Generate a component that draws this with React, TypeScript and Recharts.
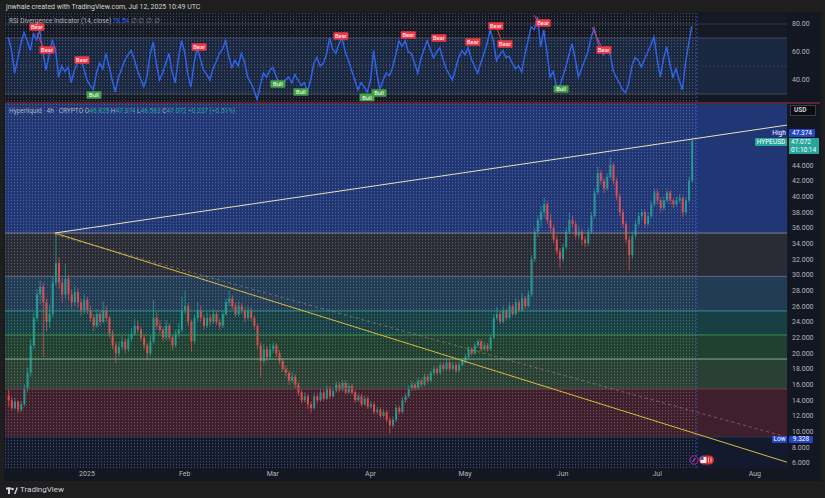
import React from 'react';
import {
  ComposedChart,
  Bar,
  Line,
  XAxis,
  YAxis,
  CartesianGrid,
  ReferenceArea,
  ReferenceLine,
  ReferenceDot,
} from 'recharts';

// days counted from Jan 1 2025, first candle is Dec 7 2024
const FIRST_DAY = -25;

// daily candles [open, high, low, close]
const ohlc: [number, number, number, number][] = [
  // Dec
  [14.6, 15.3, 13.2, 14.0], [14.0, 14.4, 12.7, 13.0], [13.0, 14.3, 12.8, 13.8], [13.8, 14.0, 12.4, 12.8],
  [12.8, 13.9, 12.5, 13.5], [13.5, 16.0, 13.2, 15.5], [15.5, 18.2, 15.0, 17.5], [17.5, 21.8, 17.0, 21.0],
  [21.0, 25.2, 20.5, 24.5], [24.5, 28.2, 24.0, 27.5], [27.5, 29.3, 26.2, 28.5], [28.5, 29.0, 19.5, 26.5],
  [26.5, 27.0, 22.8, 24.0], [24.0, 26.2, 23.2, 25.0], [25.0, 29.8, 24.6, 29.0], [29.0, 35.3, 28.6, 31.5],
  [31.5, 32.2, 28.2, 29.0], [29.0, 29.6, 26.5, 27.5], [27.5, 31.5, 27.0, 29.5], [29.5, 30.0, 26.8, 27.5],
  [27.5, 28.2, 25.8, 26.5], [26.5, 28.6, 26.0, 27.8], [27.8, 28.3, 25.8, 26.5], [26.5, 27.0, 24.8, 25.5],
  [25.5, 27.5, 25.0, 26.8],
  // Jan
  [26.8, 27.2, 25.0, 25.5], [25.5, 26.0, 24.0, 24.5], [24.5, 25.0, 22.8, 23.5], [23.5, 25.6, 23.2, 25.0],
  [25.0, 25.4, 23.5, 24.0], [24.0, 26.6, 23.8, 25.5], [25.5, 26.0, 24.0, 24.5], [24.5, 24.8, 22.0, 22.5],
  [22.5, 23.0, 20.5, 21.0], [21.0, 21.4, 18.8, 20.0], [20.0, 21.4, 19.6, 20.8], [20.8, 22.2, 20.4, 21.5],
  [21.5, 21.9, 20.0, 20.5], [20.5, 22.4, 20.2, 21.8], [21.8, 23.2, 21.4, 22.5], [22.5, 24.4, 22.2, 23.5],
  [23.5, 24.2, 22.6, 23.0], [23.0, 23.4, 21.6, 22.0], [22.0, 22.4, 20.5, 21.0], [21.0, 21.3, 19.1, 20.0],
  [20.0, 22.2, 19.6, 21.5], [21.5, 26.8, 21.2, 24.5], [24.5, 25.2, 23.0, 23.5], [23.5, 24.3, 22.5, 23.0],
  [23.0, 23.4, 21.5, 22.0], [22.0, 24.2, 21.6, 23.5], [23.5, 23.8, 21.6, 22.0], [22.0, 22.3, 20.4, 21.0],
  [21.0, 23.0, 20.7, 22.5], [22.5, 23.8, 22.0, 23.0], [23.0, 27.2, 22.7, 25.5],
  // Feb
  [25.5, 28.0, 25.0, 26.0], [26.0, 26.4, 23.5, 24.0], [24.0, 24.3, 20.2, 21.5], [21.5, 25.0, 21.2, 24.5],
  [24.5, 26.5, 24.0, 25.5], [25.5, 26.0, 24.0, 24.5], [24.5, 24.9, 23.0, 23.5], [23.5, 25.2, 23.2, 24.5],
  [24.5, 25.0, 23.5, 24.0], [24.0, 25.6, 23.7, 25.0], [25.0, 25.4, 23.6, 24.0], [24.0, 24.4, 23.0, 23.5],
  [23.5, 25.5, 23.2, 25.0], [25.0, 27.0, 24.7, 26.5], [26.5, 28.0, 26.0, 27.0], [27.0, 27.4, 25.6, 26.0],
  [26.0, 26.4, 24.6, 25.0], [25.0, 26.6, 24.7, 26.0], [26.0, 26.4, 25.0, 25.5], [25.5, 25.9, 24.0, 24.5],
  [24.5, 26.1, 24.2, 25.5], [25.5, 25.9, 24.0, 24.5], [24.5, 24.8, 23.0, 23.5], [23.5, 23.8, 20.5, 21.0],
  [21.0, 21.4, 17.0, 19.0], [19.0, 21.2, 18.6, 20.5], [20.5, 20.9, 19.0, 19.5], [19.5, 21.2, 19.2, 20.5],
  // Mar
  [20.5, 21.4, 20.0, 21.0], [21.0, 21.3, 19.5, 20.0], [20.0, 20.4, 18.6, 19.0], [19.0, 19.4, 17.6, 18.0],
  [18.0, 18.4, 17.0, 17.5], [17.5, 17.8, 16.0, 16.5], [16.5, 17.6, 16.2, 17.0], [17.0, 17.3, 15.6, 16.0],
  [16.0, 16.3, 14.6, 15.0], [15.0, 15.3, 13.6, 14.0], [14.0, 15.0, 13.7, 14.5], [14.5, 14.8, 12.9, 13.5],
  [13.5, 13.8, 12.4, 13.0], [13.0, 14.9, 12.8, 14.5], [14.5, 14.8, 13.6, 14.0], [14.0, 15.5, 13.8, 15.0],
  [15.0, 15.3, 13.9, 14.2], [14.2, 15.9, 14.0, 15.5], [15.5, 15.8, 14.2, 14.5], [14.5, 15.6, 14.3, 15.2],
  [15.2, 16.4, 15.0, 16.0], [16.0, 16.3, 15.0, 15.3], [15.3, 16.6, 15.1, 16.2], [16.2, 16.5, 14.7, 15.0],
  [15.0, 16.2, 14.8, 15.8], [15.8, 16.1, 14.7, 15.0], [15.0, 15.3, 13.7, 14.0], [14.0, 14.9, 13.8, 14.5],
  [14.5, 14.8, 13.2, 13.5], [13.5, 14.6, 13.3, 14.2], [14.2, 14.5, 12.9, 13.2],
  // Apr
  [13.2, 13.9, 12.9, 13.5], [13.5, 13.8, 12.2, 12.5], [12.5, 13.2, 12.2, 12.8], [12.8, 13.1, 11.7, 12.0],
  [12.0, 12.9, 11.8, 12.5], [12.5, 12.8, 11.2, 11.5], [11.5, 11.8, 9.8, 10.8], [10.8, 11.9, 10.5, 11.5],
  [11.5, 13.4, 11.2, 13.0], [13.0, 13.3, 12.2, 12.5], [12.5, 14.4, 12.3, 14.0], [14.0, 14.9, 13.7, 14.5],
  [14.5, 15.9, 14.3, 15.5], [15.5, 16.5, 15.2, 16.0], [16.0, 16.3, 15.2, 15.5], [15.5, 16.9, 15.3, 16.5],
  [16.5, 16.8, 15.7, 16.0], [16.0, 17.4, 15.8, 17.0], [17.0, 17.3, 16.2, 16.5], [16.5, 17.8, 16.3, 17.5],
  [17.5, 18.4, 17.2, 18.0], [18.0, 18.3, 17.2, 17.5], [17.5, 18.9, 17.3, 18.5], [18.5, 18.8, 17.7, 18.0],
  [18.0, 19.2, 17.8, 18.8], [18.8, 19.1, 17.7, 18.0], [18.0, 18.9, 17.8, 18.5], [18.5, 18.8, 17.5, 17.8],
  [17.8, 18.9, 17.6, 18.5], [18.5, 19.4, 18.3, 19.0],
  // May
  [19.0, 19.9, 18.7, 19.5], [19.5, 20.9, 19.3, 20.5], [20.5, 20.8, 19.7, 20.0], [20.0, 21.4, 19.8, 21.0],
  [21.0, 21.8, 20.7, 21.5], [21.5, 21.8, 20.2, 20.5], [20.5, 21.4, 20.3, 21.0], [21.0, 21.3, 20.2, 20.5],
  [20.5, 22.4, 20.3, 22.0], [22.0, 25.0, 21.8, 24.5], [24.5, 25.9, 24.2, 25.0], [25.0, 25.3, 23.7, 24.0],
  [24.0, 26.0, 23.8, 25.5], [25.5, 25.8, 24.2, 24.5], [24.5, 26.5, 24.3, 26.0], [26.0, 26.3, 24.7, 25.0],
  [25.0, 27.0, 24.8, 26.5], [26.5, 26.8, 25.2, 25.5], [25.5, 27.7, 25.3, 27.0], [27.0, 27.3, 25.7, 26.0],
  [26.0, 28.0, 25.8, 27.5], [27.5, 32.5, 27.2, 32.0], [32.0, 36.0, 31.6, 35.5], [35.5, 37.6, 34.8, 37.0],
  [37.0, 38.8, 36.0, 38.0], [38.0, 39.8, 37.2, 39.0], [39.0, 39.4, 36.5, 37.0], [37.0, 37.8, 35.4, 36.0],
  [36.0, 36.4, 34.0, 34.5], [34.5, 35.0, 32.6, 33.0], [33.0, 33.4, 30.9, 32.0],
  // Jun
  [32.0, 34.0, 31.6, 33.5], [33.5, 36.0, 33.2, 35.5], [35.5, 37.9, 35.2, 37.0], [37.0, 37.5, 36.0, 36.5],
  [36.5, 36.9, 34.6, 35.0], [35.0, 36.2, 34.6, 35.5], [35.5, 35.9, 33.8, 34.5], [34.5, 34.9, 33.5, 34.0],
  [34.0, 36.0, 33.7, 35.5], [35.5, 38.0, 35.2, 37.5], [37.5, 41.0, 37.2, 40.5], [40.5, 43.8, 40.2, 43.0],
  [43.0, 43.4, 41.5, 42.0], [42.0, 42.4, 40.4, 41.0], [41.0, 43.0, 40.7, 42.5], [42.5, 45.0, 42.2, 44.0],
  [44.0, 44.3, 41.5, 42.0], [42.0, 42.4, 39.5, 40.0], [40.0, 40.4, 37.5, 38.0], [38.0, 38.4, 36.0, 36.5],
  [36.5, 36.9, 34.0, 34.5], [34.5, 35.0, 30.6, 32.5], [32.5, 35.5, 32.0, 35.0], [35.0, 37.0, 34.6, 36.5],
  [36.5, 38.0, 36.2, 37.5], [37.5, 38.4, 37.0, 38.0], [38.0, 38.3, 36.0, 36.5], [36.5, 38.0, 36.2, 37.5],
  [37.5, 39.4, 37.2, 39.0], [39.0, 41.0, 38.7, 40.5],
  // Jul
  [40.5, 40.9, 39.0, 39.5], [39.5, 39.9, 38.0, 38.5], [38.5, 40.0, 38.2, 39.5], [39.5, 40.9, 39.2, 40.5],
  [40.5, 40.8, 39.0, 39.5], [39.5, 39.8, 38.5, 39.0], [39.0, 40.0, 38.7, 39.5], [39.5, 40.3, 39.2, 39.8],
  [39.8, 40.1, 37.4, 38.0], [38.0, 39.9, 37.7, 39.5], [39.5, 42.5, 39.2, 42.0], [42.0, 47.374, 41.8, 47.072],
];

// RSI(14) one value per day, same start day as the candles
const rsi14: number[] = [
  70.7, 62, 45, 55, 66, 74, 68, 61, 73, 69, 76, 60, 47, 58, 68, 62, 42, 50, 46, 49, 38, 47, 52, 56, 48,
  40, 36, 33, 45, 52, 48, 59, 50, 40, 31.5, 42, 48, 54, 58, 61, 55, 47, 41, 35, 42, 58, 67, 52, 40, 45,
  52, 59, 46, 38, 55, 68, 60, 44, 35, 52, 63, 55, 47, 44, 40, 48, 53, 59, 62, 68, 57, 49, 54, 50, 59,
  53, 42, 38, 33, 26, 36, 45, 42, 47, 49, 43, 38, 35, 40, 42, 38, 44, 40, 36, 38, 31.5, 40, 52, 56, 50,
  52, 58, 70, 62, 59, 66, 70, 60, 54, 47, 40, 33, 38, 35, 31.5, 40, 61, 45, 33, 40, 45, 43, 49, 58, 68,
  64, 68, 60, 59, 52, 45, 55, 62, 68, 62, 56, 60, 63, 55, 48, 44, 40, 48, 56, 61, 58, 63, 55, 50, 45,
  52, 59, 66, 75.7, 68, 54, 58, 61, 56, 57, 52, 48, 50, 45.7, 58, 68, 78, 76, 85, 63.6, 75.7, 60, 42, 46,
  36, 35, 42, 49, 58, 66, 55, 42, 48, 54, 60, 70, 77, 68, 61, 58, 63.6, 60, 47, 42, 38, 33, 31, 38, 50,
  56, 54, 49, 55, 60, 65, 70.7, 55, 42, 55, 63.6, 52, 42, 48, 40, 33, 52, 66, 78.5,
];

const monthDays = [0, 31, 59, 90, 120, 151, 181, 212];
const monthNames = ['2025', 'Feb', 'Mar', 'Apr', 'May', 'Jun', 'Jul', 'Aug'];
const priceTicks = [6, 8, 10, 12, 14, 16, 18, 20, 22, 24, 26, 28, 30, 32, 34, 36, 38, 40, 42, 44];
const rsiTicks = [40, 60, 80];

// fib retracement from the Apr low to the Dec high
const fibLevels = [9.328, 15.46, 19.26, 22.33, 25.4, 29.8, 35.33];
const fibFills = ['#3f1f2b', '#2a4035', '#204030', '#184044', '#223c56', '#292c35', '#213675'];
const fibLines = ['#2c3455', '#6b4550', '#7fb08f', '#3f8f55', '#2f8f8a', '#5d6b80', '#7d8290'];

// trendlines from the Dec top
const athDay = -10.2;
const athPrice = 35.33;
const trendEndDay = 222.2;
const upperEndPrice = 49.1;
const lowerEndPrice = 6.1;
const dashedEndPrice = 9.3;

// RSI divergence tags [day, rsi level of label]
const bearTags: [number, number][] = [
  [-15.9, 77.9], [-12.7, 61.4], [-1.6, 54.3], [35.6, 63.6], [80.6, 71.4], [102, 72.1],
  [111.7, 70], [122.5, 67.1], [129.8, 78.6], [132.7, 65.7], [144.8, 80.7], [164.1, 61.4],
];
const bullTags: [number, number][] = [
  [2.2, 29.3], [60.6, 37.1], [67.9, 31.4], [88.9, 27.6], [92.7, 30.7], [150.5, 33.6],
];
const divergences: [number, number, number, number][] = [
  [-15.9, 73.6, -14.0, 63.6], [130.2, 76.4, 131.7, 67.1], [141.9, 86.4, 143.2, 81.4], [160.3, 77.9, 163.2, 64.3],
];

const X_DOMAIN: [number, number] = [-26.03, 222.22];
const NOW_DAY = 193.6;
const W = 815;
const AXIS_W = 33;
const TEXT = '#b2b5be';
const FONT = 'Roboto, "Noto Sans", sans-serif';

const candles = ohlc.map(([o, h, l, c], i) => ({ d: FIRST_DAY + i, o, h, l, c, range: [l, h] }));
const rsiData = rsi14.map((v, i) => ({ d: FIRST_DAY + i, v }));

const Candle = (props: any) => {
  const { x, y, width, height, payload } = props;
  if (!payload) return null;
  const { o, h, l, c } = payload;
  const color = c >= o ? '#26a69a' : '#ef5350';
  const top = Math.min(y, y + height);
  const hh = Math.abs(height);
  const k = hh / Math.max(h - l, 1e-6);
  const yo = top + (h - o) * k;
  const yc = top + (h - c) * k;
  const cx = x + width / 2;
  return (
    <g opacity={0.88}>
      <line x1={cx} x2={cx} y1={top} y2={top + hh} stroke={color} strokeWidth={0.8} />
      <rect x={x} y={Math.min(yo, yc)} width={width} height={Math.max(Math.abs(yo - yc), 0.8)} fill={color} />
    </g>
  );
};

const tag = (label: string, color: string) => (p: any) => (
  <g>
    <rect x={p.cx - 7.5} y={p.cy - 3.8} width={15} height={7.6} rx={1} fill={color} />
    <text x={p.cx} y={p.cy + 2.2} textAnchor="middle" fontSize={5.8} fill="#fff" fontFamily={FONT}>
      {label}
    </text>
  </g>
);

const Box = ({ x, y, w, h, bg, color = '#fff', children }: any) => (
  <div
    style={{
      position: 'absolute', left: x, top: y, width: w, height: h, background: bg, color,
      fontSize: 6.5, lineHeight: `${h}px`, textAlign: 'center', borderRadius: 1, whiteSpace: 'nowrap',
    }}
  >
    {children}
  </div>
);

export default function App() {
  return (
    <div style={{ position: 'relative', width: 825, height: 498, background: '#1e1e1e', fontFamily: FONT, overflow: 'hidden' }}>
      <style>{'body{margin:0}'}</style>
      <svg width={0} height={0} style={{ position: 'absolute' }}>
        <defs>
          <pattern id="dots" width={3} height={3} patternUnits="userSpaceOnUse">
            <rect width={1} height={1.2} fill="rgba(255,255,255,0.22)" />
          </pattern>
        </defs>
      </svg>

      <div style={{ position: 'absolute', left: 6, top: 2.5, fontSize: 7, color: '#d1d4dc', whiteSpace: 'nowrap' }}>
        jnwhale created with TradingView.com, Jul 12, 2025 10:49 UTC
      </div>

      <div style={{ position: 'absolute', left: 4, top: 12, width: 817, height: 469, background: '#131722' }} />

      {/* RSI pane */}
      <div style={{ position: 'absolute', left: 5, top: 13 }}>
        <ComposedChart width={W} height={89} data={rsiData} margin={{ top: 0, right: 0, bottom: 0, left: 0 }}>
          <XAxis dataKey="d" type="number" domain={X_DOMAIN} hide allowDataOverflow />
          <YAxis
            orientation="right"
            width={AXIS_W}
            domain={[24.29, 87.86]}
            ticks={rsiTicks}
            tickFormatter={(v: number) => v.toFixed(2)}
            axisLine={false}
            tickLine={false}
            tickSize={3}
            tickMargin={2}
            tick={{ fontSize: 7, fill: TEXT }}
            allowDataOverflow
          />
          <ReferenceArea y1={24.29} y2={87.86} fill="#141924" fillOpacity={1} />
          <ReferenceArea y1={30} y2={70} fill="#1a2740" fillOpacity={1} />
          <ReferenceArea x1={X_DOMAIN[0]} x2={NOW_DAY} fill="url(#dots)" fillOpacity={1} />
          <ReferenceLine y={80} stroke="rgba(120,123,134,0.35)" />
          <ReferenceLine y={70} stroke="rgba(120,123,134,0.45)" />
          <ReferenceLine y={50} stroke="rgba(120,123,134,0.3)" strokeDasharray="2 2" />
          <ReferenceLine y={30} stroke="rgba(120,123,134,0.45)" />
          <ReferenceLine x={NOW_DAY} stroke="#2962ff" strokeDasharray="2 2" strokeOpacity={0.7} />
          <Line dataKey="v" stroke="#2f62e8" strokeWidth={1.5} dot={false} isAnimationActive={false} />
          {divergences.map(([d1, v1, d2, v2], i) => (
            <ReferenceLine key={`dv${i}`} segment={[{ x: d1, y: v1 }, { x: d2, y: v2 }]} stroke="#f23645" strokeWidth={1} />
          ))}
          {bearTags.map(([d, v], i) => (
            <ReferenceDot key={`be${i}`} x={d} y={v} r={1} shape={tag('Bear', '#f23645')} />
          ))}
          {bullTags.map(([d, v], i) => (
            <ReferenceDot key={`bu${i}`} x={d} y={v} r={1} shape={tag('Bull', '#43a047')} />
          ))}
        </ComposedChart>
      </div>
      <div style={{ position: 'absolute', left: 9, top: 17, fontSize: 6.5, color: TEXT, whiteSpace: 'nowrap' }}>
        RSI Divergence Indicator (14, close) <span style={{ color: '#2962ff' }}>78.54</span>
        <span style={{ color: '#787b86' }}> ∅ ∅ ∅ ∅</span>
      </div>

      <div style={{ position: 'absolute', left: 5, top: 102, width: W, height: 2, background: '#5b2533' }} />

      {/* price pane */}
      <div style={{ position: 'absolute', left: 5, top: 104 }}>
        <ComposedChart width={W} height={376} data={candles} margin={{ top: 0, right: 0, bottom: 0, left: 0 }}>
          <XAxis
            dataKey="d"
            type="number"
            domain={X_DOMAIN}
            ticks={monthDays}
            tickFormatter={(v: number) => monthNames[monthDays.indexOf(v)]}
            axisLine={false}
            tickLine={false}
            tickSize={0}
            tickMargin={3}
            height={12}
            tick={{ fontSize: 7, fill: TEXT }}
            allowDataOverflow
          />
          <YAxis
            orientation="right"
            width={AXIS_W}
            domain={[5.36, 51.79]}
            ticks={priceTicks}
            tickFormatter={(v: number) => v.toFixed(3)}
            axisLine={false}
            tickLine={false}
            tickSize={3}
            tickMargin={2}
            tick={{ fontSize: 7, fill: TEXT }}
            allowDataOverflow
          />
          <ReferenceArea y1={5.36} y2={fibLevels[0]} fill="#131a2e" fillOpacity={1} />
          {fibLevels.map((lv, i) => (
            <ReferenceArea
              key={`fa${i}`}
              y1={lv}
              y2={i + 1 < fibLevels.length ? fibLevels[i + 1] : 51.79}
              fill={fibFills[i]}
              fillOpacity={1}
            />
          ))}
          <CartesianGrid stroke="rgba(255,255,255,0.035)" horizontal={false} />
          <ReferenceArea x1={X_DOMAIN[0]} x2={NOW_DAY} fill="url(#dots)" fillOpacity={1} />
          {fibLevels.map((lv, i) => (
            <ReferenceLine key={`fl${i}`} y={lv} stroke={fibLines[i]} strokeWidth={1} />
          ))}
          <ReferenceLine x={NOW_DAY} stroke="#2962ff" strokeDasharray="2 2" strokeOpacity={0.6} />
          <ReferenceLine
            segment={[{ x: athDay, y: athPrice - 0.2 }, { x: trendEndDay, y: dashedEndPrice }]}
            stroke="rgba(210,150,165,0.45)"
            strokeDasharray="3 3"
          />
          <ReferenceLine
            segment={[{ x: athDay, y: athPrice }, { x: trendEndDay, y: upperEndPrice }]}
            stroke="#e6e2bd"
            strokeWidth={1}
          />
          <ReferenceLine
            segment={[{ x: athDay, y: athPrice }, { x: trendEndDay, y: lowerEndPrice }]}
            stroke="#d9bb3c"
            strokeWidth={1}
          />
          <Bar dataKey="range" barSize={2} shape={<Candle />} isAnimationActive={false} />
        </ComposedChart>
      </div>

      <div style={{ position: 'absolute', left: 9, top: 107, fontSize: 6.5, color: TEXT, whiteSpace: 'nowrap' }}>
        Hyperliquid · 4h · CRYPTO{' '}
        <span>O</span><span style={{ color: '#26a69a' }}>46.825 </span>
        <span>H</span><span style={{ color: '#26a69a' }}>47.374 </span>
        <span>L</span><span style={{ color: '#26a69a' }}>46.563 </span>
        <span>C</span><span style={{ color: '#26a69a' }}>47.072 +0.237 (+0.51%)</span>
      </div>

      {/* price scale labels */}
      <div
        style={{
          position: 'absolute', left: 790, top: 105, width: 26, height: 11, background: '#0b0d12',
          border: '1px solid #3a3d45', boxSizing: 'border-box', color: '#d1d4dc', fontSize: 6.5,
          fontWeight: 700, lineHeight: '9px', paddingLeft: 3,
        }}
      >
        USD
      </div>
      <Box x={771} y={129} w={16} h={8} bg="#1e3488">High</Box>
      <Box x={789} y={129} w={26} h={8} bg="#2546c4">47.374</Box>
      <Box x={755} y={137.5} w={32} h={8} bg="#26a69a">HYPEUSD</Box>
      <div
        style={{
          position: 'absolute', left: 789, top: 137.5, width: 30, height: 16, background: '#26a69a',
          color: '#fff', fontSize: 6.5, lineHeight: '8px', paddingLeft: 2, boxSizing: 'border-box',
        }}
      >
        47.072
        <br />
        01:10:14
      </div>
      <Box x={772} y={436} w={15} h={7} bg="#2546c4">Low</Box>
      <Box x={789} y={436} w={24} h={7} bg="#2546c4">9.328</Box>

      {/* event markers */}
      <svg style={{ position: 'absolute', left: 688, top: 454 }} width={28} height={12}>
        <circle cx={6} cy={6} r={4.2} fill="#1e1a33" stroke="#9c27b0" strokeWidth={1} />
        <line x1={4.5} y1={8} x2={7.5} y2={4} stroke="#ce93d8" strokeWidth={0.8} />
        <rect x={11} y={1.5} width={15} height={9} rx={4.5} fill="#d32f2f" />
        <rect x={12.5} y={3} width={6} height={6} rx={1} fill="#e3f2fd" />
        <rect x={12.5} y={3} width={3} height={3} fill="#1565c0" />
        <line x1={20.5} y1={3.5} x2={20.5} y2={8.5} stroke="#fff" strokeWidth={0.7} />
        <line x1={23} y1={3.5} x2={23} y2={8.5} stroke="#fff" strokeWidth={0.7} />
      </svg>

      {/* footer logo */}
      <svg style={{ position: 'absolute', left: 6, top: 487 }} width={12} height={8}>
        <rect x={0} y={0.5} width={5} height={2} fill="#d1d4dc" />
        <rect x={2} y={0.5} width={2} height={6.5} fill="#d1d4dc" />
        <circle cx={6.5} cy={2} r={1.3} fill="#d1d4dc" />
        <path d="M8 7 L10.5 0.5 L12 0.5 L9.5 7 Z" fill="#d1d4dc" />
      </svg>
      <div style={{ position: 'absolute', left: 20, top: 485, fontSize: 8, color: '#d1d4dc' }}>TradingView</div>
    </div>
  );
}
